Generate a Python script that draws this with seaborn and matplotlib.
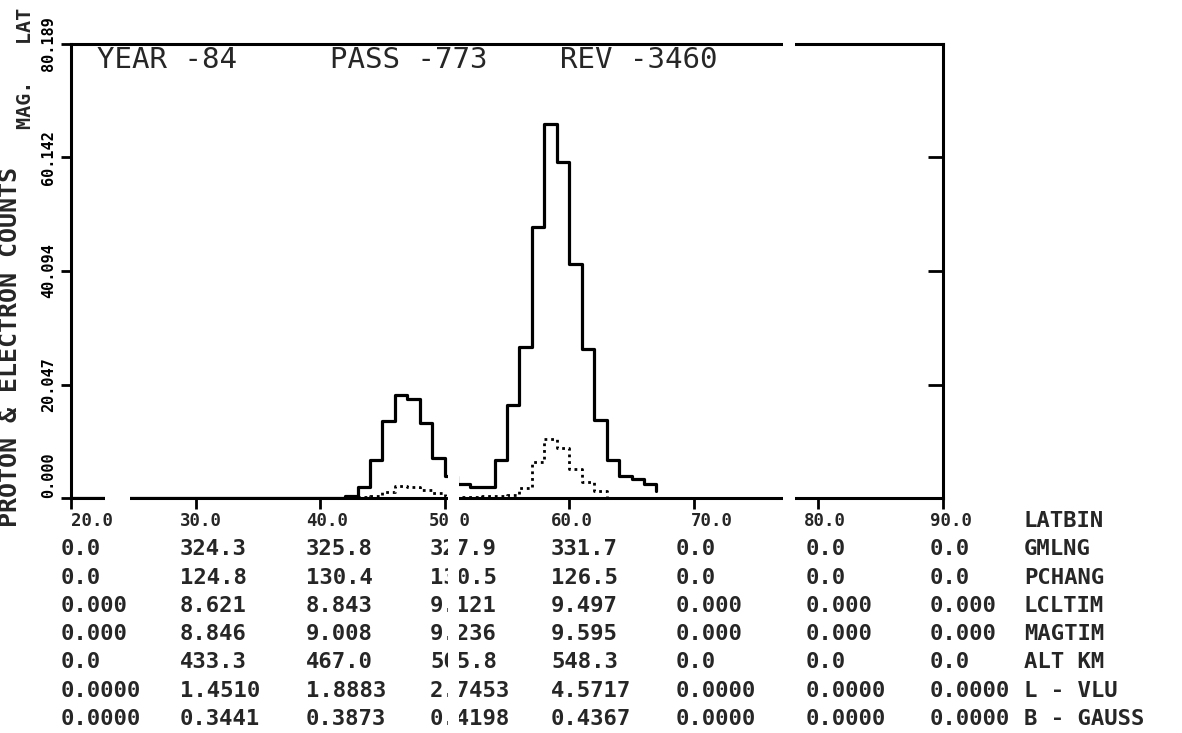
import matplotlib
matplotlib.use("Agg")
import matplotlib.pyplot as plt
import matplotlib.transforms as mtransforms
from matplotlib.patches import Rectangle
import pandas as pd
import seaborn as sns

# ---- data -------------------------------------------------------------
# 1-degree latitude bins (left edge); the last entry closes the trace
lat_bins = list(range(20, 68))
proton_counts = [0.0] * 22 + [
    0.3, 2.0, 6.8, 13.6, 18.2, 17.4, 13.3, 7.1, 3.9,      # 42-50
    2.4, 1.9, 1.9, 6.8, 16.5, 26.7, 47.9, 66.1, 59.4,     # 51-59
    41.4, 26.4, 13.7, 6.7, 3.8, 3.3, 2.5, 1.2,            # 60-67
]
electron_bins = list(range(42, 65))
electron_counts = [
    0.0, 0.1, 0.4, 1.1, 2.2, 2.0, 1.4, 0.8, 0.3, 0.1, 0.1,  # 42-52
    0.3, 0.4, 0.6, 1.7, 6.4, 10.5, 8.9, 5.2, 2.9, 1.2, 0.0, 0.0,  # 53-64
]

lat_ticks = [20, 30, 40, 50, 60, 70, 80, 90]
lat_tick_labels = ["20.0", "30.0", "40.0", "50.0", "60.0", "70.0", "80.0", "90.0"]
count_ticks = [0.000, 20.047, 40.094, 60.142, 80.189]
count_tick_labels = ["0.000", "20.047", "40.094", "60.142", "80.189"]

row_names = ["GMLNG", "PCHANG", "LCLTIM", "MAGTIM", "ALT KM", "L - VLU", "B - GAUSS"]
gmlng = [0.0, 324.3, 325.8, 327.9, 331.7, 0.0, 0.0, 0.0]
pchang = [0.0, 124.8, 130.4, 130.5, 126.5, 0.0, 0.0, 0.0]
lcltim = [0.0, 8.621, 8.843, 9.121, 9.497, 0.0, 0.0, 0.0]
magtim = [0.0, 8.846, 9.008, 9.236, 9.595, 0.0, 0.0, 0.0]
alt_km = [0.0, 433.3, 467.0, 505.8, 548.3, 0.0, 0.0, 0.0]
l_vlu = [0.0, 1.4510, 1.8883, 2.7453, 4.5717, 0.0, 0.0, 0.0]
b_gauss = [0.0, 0.3441, 0.3873, 0.4198, 0.4367, 0.0, 0.0, 0.0]
row_values = [gmlng, pchang, lcltim, magtim, alt_km, l_vlu, b_gauss]
row_decimals = [1, 1, 3, 3, 1, 4, 4]

header = ["YEAR -84", "PASS -773", "REV -3460"]

# ---- style ------------------------------------------------------------
sns.set_theme(style="white")
plt.rcParams["font.family"] = ["DejaVu Sans Mono", "DejaVu Sans"]
plt.rcParams["axes.edgecolor"] = "black"
plt.rcParams["axes.linewidth"] = 2.2

W, H = 1182, 733
fig = plt.figure(figsize=(W / 100, H / 100), dpi=100)
fig.patch.set_facecolor("white")


def fx(px):
    return px / W


def fy(py):
    return 1 - py / H


ax_left, ax_right, ax_top, ax_bottom = 71, 943, 44, 498
ax = fig.add_axes([fx(ax_left), fy(ax_bottom),
                   (ax_right - ax_left) / W, (ax_bottom - ax_top) / H])
ax.set_facecolor("white")

df_p = pd.DataFrame({"lat": lat_bins, "count": proton_counts})
df_e = pd.DataFrame({"lat": electron_bins, "count": electron_counts})
sns.lineplot(data=df_p, x="lat", y="count", ax=ax, estimator=None,
             drawstyle="steps-post", color="black", linewidth=2.3)
sns.lineplot(data=df_e, x="lat", y="count", ax=ax, estimator=None,
             drawstyle="steps-post", color="black", linewidth=2.0,
             linestyle=(0, (1, 1.4)))

ax.set_xlim(lat_ticks[0], lat_ticks[-1])
ax.set_ylim(count_ticks[0], count_ticks[-1])
ax.set_xlabel("")
ax.set_ylabel("")
ax.set_xticks(lat_ticks)
ax.set_yticks(count_ticks)
ax.tick_params(axis="x", direction="out", length=8, width=2, colors="black",
               labelbottom=False, bottom=True)
ax.tick_params(axis="y", direction="out", length=7, width=2, colors="black",
               labelleft=False, left=True)
for s in ax.spines.values():
    s.set_color("black")
    s.set_linewidth(2.2)

# inward ticks on the right-hand frame
sec = ax.secondary_yaxis("right")
sec.set_yticks(count_ticks[1:4])
sec.tick_params(direction="in", length=11, width=2, colors="black",
                labelright=False)
sec.spines["right"].set_visible(False)

# rotated count labels beside the left frame
ylab_tr = mtransforms.blended_transform_factory(fig.transFigure, ax.transData)
for i, (v, lab) in enumerate(zip(count_ticks, count_tick_labels)):
    va = "bottom" if i == 0 else "center"
    ax.text(fx(49), v, lab, transform=ylab_tr, rotation=90, ha="center",
            va=va, fontsize=11, fontweight="bold", color="black")

# axis titles
fig.text(fx(10), fy(527), "PROTON & ELECTRON COUNTS", rotation=90,
         ha="center", va="bottom", fontsize=18, fontweight="bold")
fig.text(fx(26), fy(8), "MAG.   LAT", rotation=90, ha="center", va="top",
         fontsize=14.5, fontweight="bold")

# pass header inside the frame
for txt, x in zip(header, [97, 330, 560]):
    fig.text(fx(x), fy(60), txt, ha="left", va="center", fontsize=21)

# ---- orbit parameter table -------------------------------------------
col_x = [61, 180, 306, 430, 551, 676, 806, 930]
lat_label_x = [71, 180, 306, 429, 551, 691, 804, 930]
name_x = 1024
row_y0, row_dy = 521, 28.3

for x, lab in zip(lat_label_x, lat_tick_labels):
    fig.text(fx(x), fy(row_y0), lab, ha="left", va="center", fontsize=12.5,
             fontweight="bold")
fig.text(fx(name_x), fy(row_y0), "LATBIN", ha="left", va="center",
         fontsize=16, fontweight="bold")

for r, (name, vals, dec) in enumerate(zip(row_names, row_values, row_decimals)):
    y = row_y0 + (r + 1) * row_dy
    for x, v in zip(col_x, vals):
        fig.text(fx(x), fy(y), f"{v:.{dec}f}", ha="left", va="center",
                 fontsize=16, fontweight="bold")
    fig.text(fx(name_x), fy(y), name, ha="left", va="center", fontsize=16,
             fontweight="bold")

# paper creases where the trace and frame are broken
for x0, y0, x1, y1 in [(448, 470, 459, 733), (105, 490, 130, 508),
                       (783, 490, 795, 508), (783, 36, 795, 52)]:
    fig.add_artist(Rectangle((fx(x0), fy(y1)), (x1 - x0) / W, (y1 - y0) / H,
                             transform=fig.transFigure, facecolor="white",
                             edgecolor="none", zorder=20))

fig.savefig("out.png", dpi=100, facecolor="white")
